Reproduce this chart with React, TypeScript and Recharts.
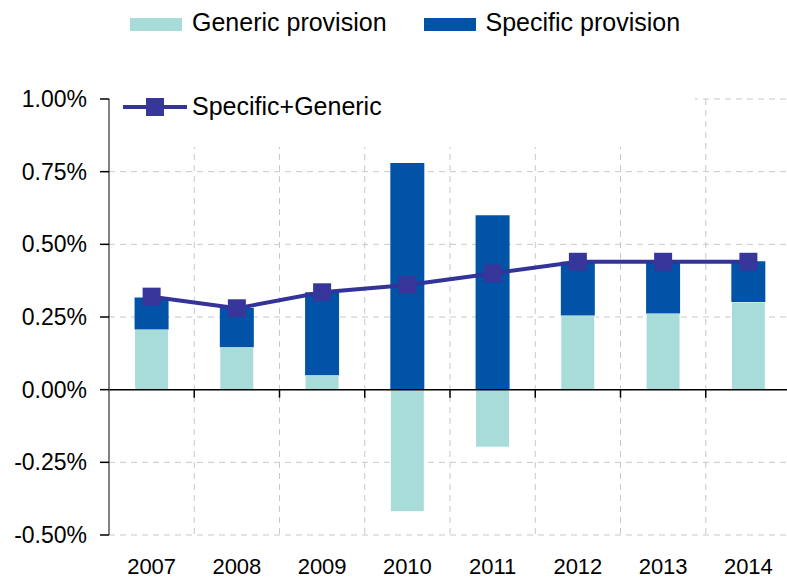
import React from 'react'
import { Bar, CartesianGrid, ComposedChart, Legend, Line, ReferenceLine, XAxis, YAxis } from 'recharts'

// values in percent
const years = ['2007', '2008', '2009', '2010', '2011', '2012', '2013', '2014']
const genericProvision = [0.207, 0.146, 0.05, -0.42, -0.198, 0.255, 0.262, 0.302]
const specificProvision = [0.11, 0.135, 0.285, 0.78, 0.6, 0.185, 0.178, 0.14]
const specificPlusGeneric = [0.32, 0.28, 0.335, 0.36, 0.4, 0.44, 0.44, 0.44]
const yTicks = [-0.5, -0.25, 0, 0.25, 0.5, 0.75, 1.0]

const data = years.map((year, i) => ({
  year,
  generic: genericProvision[i],
  specific: specificProvision[i],
  total: specificPlusGeneric[i],
}))

const FONT = '"Liberation Sans", Arial, sans-serif'
const GENERIC = '#a8dcd9'
const SPECIFIC = '#0053a6'
const LINE = '#333399'

const SquareDot = (p: any) => {
  if (p.cx == null || p.cy == null) return <g key={p.index} />
  return <rect key={p.index} x={p.cx - 9} y={p.cy - 9} width={18} height={18} fill="#37379b" />
}

// zero line with small tick marks at the category boundaries
const ZeroAxis = (p: any) => {
  const { x1, x2, y1 } = p
  const step = (x2 - x1) / years.length
  return (
    <g>
      <line x1={x1} x2={x2} y1={y1} y2={y1} stroke="#000" strokeWidth={1.5} />
      {years.map((_, i) => (
        <line key={i} x1={x1 + (i + 1) * step} x2={x1 + (i + 1) * step} y1={y1} y2={y1 + 8} stroke="#000" strokeWidth={1.5} />
      ))}
    </g>
  )
}

const renderLegend = (props: any) => {
  const items = props.payload || []
  const color = (key: string, fallback: string) => items.find((it: any) => it.dataKey === key)?.color || fallback
  const name = (key: string, fallback: string) => items.find((it: any) => it.dataKey === key)?.value || fallback
  const text: React.CSSProperties = { fontFamily: FONT, fontSize: 25, lineHeight: '25px', color: '#000', whiteSpace: 'nowrap' }
  return (
    <div style={{ position: 'relative', width: 787, height: 0 }}>
      <div style={{ position: 'absolute', left: 130, top: 10, display: 'flex', alignItems: 'flex-start' }}>
        <div style={{ width: 52, height: 13, marginTop: 8, background: color('generic', GENERIC) }} />
        <span style={{ ...text, marginLeft: 10 }}>{name('generic', 'Generic provision')}</span>
        <div style={{ width: 52, height: 13, marginTop: 8, marginLeft: 37, background: color('specific', SPECIFIC) }} />
        <span style={{ ...text, marginLeft: 10 }}>{name('specific', 'Specific provision')}</span>
      </div>
      <div style={{ position: 'absolute', left: 110, top: 95, width: 585, height: 52, background: '#fff' }}>
        <svg width={80} height={30} style={{ position: 'absolute', left: 13, top: 0 }}>
          <line x1={0} x2={64} y1={12} y2={12} stroke={color('total', LINE)} strokeWidth={4} />
          <rect x={23} y={3} width={18} height={18} fill="#37379b" />
        </svg>
        <span style={{ ...text, position: 'absolute', left: 82, top: -1 }}>{name('total', 'Specific+Generic')}</span>
      </div>
    </div>
  )
}

export default function App() {
  return (
    <div style={{ position: 'absolute', left: 0, top: 0, width: 787, height: 579, overflow: 'hidden', background: '#fff' }}>
      <ComposedChart
        width={800}
        height={579}
        data={data}
        stackOffset="sign"
        barCategoryGap="30%"
        margin={{ top: 99, right: 9, bottom: 0, left: 0 }}
      >
        <CartesianGrid
          stroke="#c8c8c8"
          strokeDasharray="6 5"
          verticalCoordinatesGenerator={({ offset }: any) =>
            years.map((_, i) => offset.left + ((i + 1) * offset.width) / years.length)
          }
        />
        <XAxis
          dataKey="year"
          axisLine={false}
          tickLine={false}
          tickSize={0}
          tickMargin={23}
          height={44}
          interval={0}
          tick={{ fill: '#000', fontSize: 22, fontFamily: FONT }}
        />
        <YAxis
          domain={[-0.5, 1.0]}
          ticks={yTicks}
          width={109}
          tickSize={9}
          tickMargin={13}
          allowDataOverflow
          axisLine={{ stroke: '#595959', strokeWidth: 1.5 }}
          tickLine={{ stroke: '#000', strokeWidth: 1.5 }}
          tick={{ fill: '#000', fontSize: 23, fontFamily: FONT }}
          tickFormatter={(v: number) => v.toFixed(2) + '%'}
        />
        <ReferenceLine y={0} shape={ZeroAxis} />
        <Bar dataKey="generic" name="Generic provision" stackId="a" fill={GENERIC} stroke="#ffffff" strokeWidth={1} isAnimationActive={false} />
        <Bar dataKey="specific" name="Specific provision" stackId="a" fill={SPECIFIC} isAnimationActive={false} />
        <Line
          dataKey="total"
          name="Specific+Generic"
          type="linear"
          stroke={LINE}
          strokeWidth={4}
          dot={SquareDot}
          activeDot={false}
          isAnimationActive={false}
        />
        <Legend
          layout="horizontal"
          verticalAlign="middle"
          align="center"
          content={renderLegend}
          wrapperStyle={{ top: 0, left: 0, width: 787, height: 0 }}
        />
      </ComposedChart>
    </div>
  )
}
